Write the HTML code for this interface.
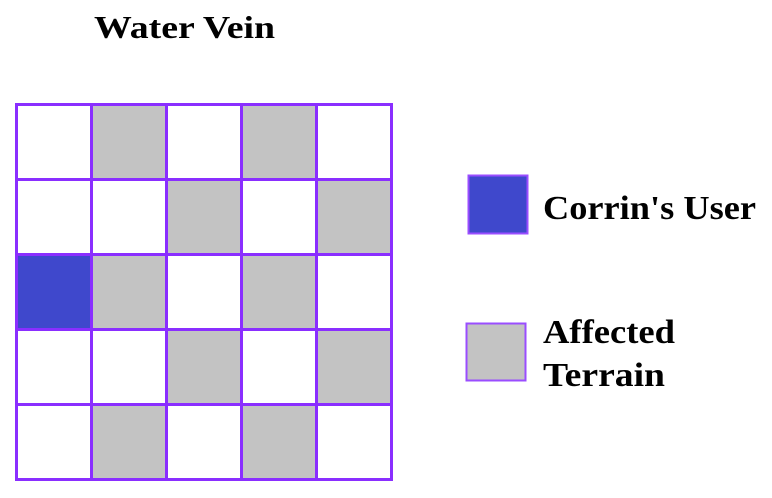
<!DOCTYPE html>
<html><head><meta charset="utf-8"><style>
html,body{margin:0;padding:0;background:#fff;}
svg{display:block;}
text{font-family:"Liberation Serif","Times New Roman","DejaVu Serif",serif;font-weight:bold;fill:#000;}
</style></head><body>
<svg width="772" height="498" viewBox="0 0 772 498">
<text x="94" y="38" font-size="32" textLength="181" lengthAdjust="spacingAndGlyphs" font-family="Liberation Serif, serif">Water Vein</text>
<g id="cells"></g>
<g id="lines"></g>
<rect x="468.5" y="175.5" width="59" height="58" fill="#3f48cc" stroke="#9a4dff" stroke-width="2"/>
<text x="543" y="219" font-size="34" textLength="213" lengthAdjust="spacingAndGlyphs" font-family="Liberation Serif, serif">Corrin's User</text>
<rect x="466.5" y="323.5" width="59" height="57" fill="#c3c3c3" stroke="#9a4dff" stroke-width="2"/>
<text x="543" y="343" font-size="34" textLength="132" lengthAdjust="spacingAndGlyphs" font-family="Liberation Serif, serif">Affected</text>
<text x="543" y="386" font-size="34" textLength="122" lengthAdjust="spacingAndGlyphs" font-family="Liberation Serif, serif">Terrain</text>
</svg>
<script>
const gridRows=["0g0g0","00g0g","ug0g0","00g0g","0g0g0"];
const x0=16.5,y0=104.5,cs=75,n=5;
const NS="http://www.w3.org/2000/svg";
const cells=document.getElementById('cells'),lines=document.getElementById('lines');
gridRows.forEach((row,r)=>{[...row].forEach((c,k)=>{
  if(c==='0')return;
  const el=document.createElementNS(NS,'rect');
  el.setAttribute('x',x0+k*cs+1);el.setAttribute('y',y0+r*cs+1);
  el.setAttribute('width',cs-2);el.setAttribute('height',cs-2);
  el.setAttribute('fill',c==='u'?'#3f48cc':'#c3c3c3');
  
  
  cells.appendChild(el);
});});
for(let i=0;i<=n;i++){
  const v=document.createElementNS(NS,'line');
  v.setAttribute('x1',x0+i*cs);v.setAttribute('x2',x0+i*cs);v.setAttribute('y1',y0-1.5);v.setAttribute('y2',y0+n*cs+1.5);
  v.setAttribute('stroke','#8a2eff');v.setAttribute('stroke-width','3');
  
  
  lines.appendChild(v);
  const h=document.createElementNS(NS,'line');
  h.setAttribute('y1',y0+i*cs);h.setAttribute('y2',y0+i*cs);h.setAttribute('x1',x0-1.5);h.setAttribute('x2',x0+n*cs+1.5);
  h.setAttribute('stroke','#8a2eff');h.setAttribute('stroke-width','3');
  
  
  lines.appendChild(h);
}
</script>
</body></html>
